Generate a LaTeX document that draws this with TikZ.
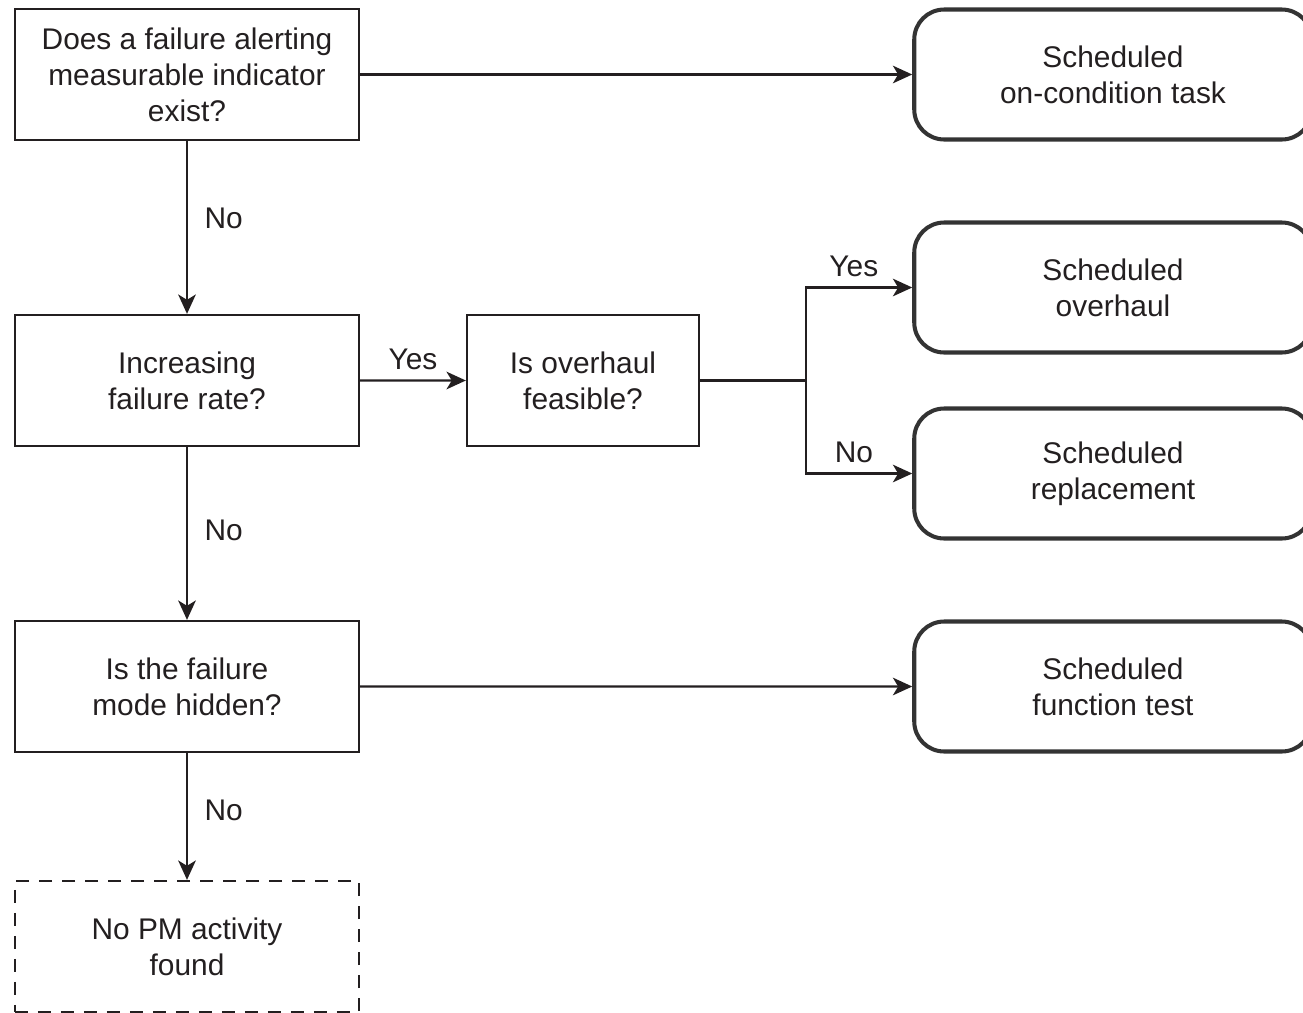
\documentclass[tikz,border=0pt]{standalone}
\usepackage{fontspec}
\setmainfont{Liberation Sans}
\usepackage{tikz}
\usetikzlibrary{arrows.meta}
\definecolor{ink}{HTML}{231F20}
\definecolor{frame}{HTML}{333333}
\tikzset{font={\fontsize{17pt}{20.5pt}\selectfont}}

\begin{document}
\begin{tikzpicture}[>={Stealth[length=11pt,width=10pt,inset=3pt]},node distance=6.12cm,
                    line width=1.3pt,draw=ink,text=ink,
                    question/.style={rectangle,draw=ink,align=center,
                      minimum width=6.88cm,minimum height=2.62cm,inner sep=2pt},
                    task/.style={rectangle,draw=frame,line width=2.3pt,rounded corners=0.6cm,
                      align=center,minimum width=7.95cm,minimum height=2.6cm},
                    answer/.style={font={\fontsize{17pt}{20.5pt}\selectfont}}]

  \useasboundingbox (0,0) rectangle (26.06,-20.26);

  \node[question] (q1) at (3.74,-1.49) {Does a failure alerting\\measurable indicator\\exist?};
  \node[question] (q2) [below of=q1] {Increasing\\failure rate?};
  \node[question] (q4) [below of=q2] {Is the failure\\mode hidden?};
  \node[question,dashed,dash pattern=on 0.26cm off 0.2cm] (none) [below of=q4,node distance=5.2cm] {No PM activity\\found};
  \node[question,minimum width=4.64cm] (q3) at (11.66,-7.61) {Is overhaul\\feasible?};

  \node[task] (onCond) at (22.26,-1.49) {Scheduled\\on-condition task};
  \node[task] (overhaul) at (22.26,-5.75) {Scheduled\\overhaul};
  \node[task] (replace) at (22.26,-9.47) {Scheduled\\replacement};
  \node[task] (funcTest) at (22.26,-13.73) {Scheduled\\function test};

  \coordinate (split) at (16.12,-7.61);

  \draw[->] (q1) -- (onCond);
  \draw[->] (q1) -- node[answer,right,pos=0.45,xshift=6pt] {No} (q2);
  \draw[->] (q2) -- node[answer,above,yshift=2pt] {Yes} (q3);
  \draw[->] (q2) -- node[answer,right,pos=0.48,xshift=6pt] {No} (q4);
  \draw[->] (q4) -- (funcTest);
  \draw[->] (q4) -- node[answer,right,pos=0.45,xshift=6pt] {No} (none);
  \draw (q3) -- (split);
  \draw[->] (split) |- node[answer,above,pos=0.75,xshift=-3pt,yshift=2pt] {Yes} (overhaul.west);
  \draw[->] (split) |- node[answer,above,pos=0.75,xshift=-3pt,yshift=2pt] {No} (replace.west);
\end{tikzpicture}
\end{document}
